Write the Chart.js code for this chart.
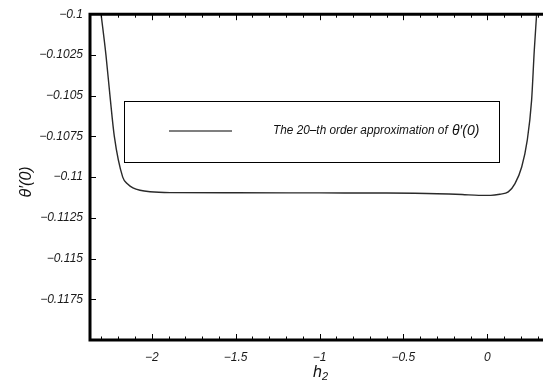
<!DOCTYPE html>
<html>
<head>
<meta charset="utf-8">
<script src="https://cdn.jsdelivr.net/npm/chart.js@4"></script>
<style>
  html, body { margin: 0; padding: 0; background: #fff; }
  #wrap { width: 543px; height: 381px; }
</style>
</head>
<body>
<div id="wrap"><canvas id="thetaChart" width="543" height="381"></canvas></div>
<script>
// values
const hValues = [-2.302, -2.273, -2.249, -2.223, -2.173, -2.142, -2.112, -2.070, -2.010, -1.891,
                 -1.5, -1.0, -0.6, -0.3, -0.15, -0.05, 0.02, 0.075, 0.125, 0.165, 0.205, 0.238, 0.264, 0.280, 0.294];
const thetaValues = [-0.1000, -0.1025, -0.1050, -0.1075, -0.1100, -0.11044, -0.11066, -0.11081, -0.11090, -0.11095,
                     -0.11096, -0.11097, -0.11098, -0.11102, -0.11107, -0.11112, -0.11112, -0.11105, -0.11091, -0.1104, -0.10938, -0.10775, -0.10529, -0.10223, -0.1000];
const xTicks = [-2, -1.5, -1, -0.5, 0];
const xMinorTicks = [-2.3, -2.2, -2.1, -1.9, -1.8, -1.7, -1.6, -1.4, -1.3, -1.2, -1.1, -0.9, -0.8, -0.7, -0.6, -0.4, -0.3, -0.2, -0.1, 0.1, 0.2, 0.3];
const yTicks = [-0.1175, -0.115, -0.1125, -0.11, -0.1075, -0.105, -0.1025, -0.1];
const legendLabel = 'The 20\u2013th order approximation of ';

const fmt = v => String(+v.toFixed(4)).replace('-', '\u2212');

// frame, inward tick marks, legend box and axis titles
const framePlugin = {
    id: 'frame',
    afterDraw(chart) {
        const ctx = chart.ctx;
        const a = chart.chartArea;
        const xs = chart.scales.x, ys = chart.scales.y;
        ctx.save();
        ctx.strokeStyle = '#000';

        // ticks
        ctx.lineWidth = 1;
        ctx.beginPath();
        xTicks.forEach(v => {
            const px = Math.round(xs.getPixelForValue(v)) + 0.5;
            ctx.moveTo(px, a.bottom); ctx.lineTo(px, a.bottom - 6);
            ctx.moveTo(px, a.top); ctx.lineTo(px, a.top + 6);
        });
        xMinorTicks.forEach(v => {
            const px = Math.round(xs.getPixelForValue(v)) + 0.5;
            ctx.moveTo(px, a.bottom); ctx.lineTo(px, a.bottom - 3.5);
            ctx.moveTo(px, a.top); ctx.lineTo(px, a.top + 3.5);
        });
        yTicks.forEach(v => {
            const py = Math.round(ys.getPixelForValue(v)) + 0.5;
            ctx.moveTo(a.left, py); ctx.lineTo(a.left + 6, py);
        });
        ctx.stroke();

        // axes lines
        ctx.lineWidth = 3;
        ctx.beginPath();
        ctx.moveTo(a.left, a.top); ctx.lineTo(a.right, a.top);
        ctx.moveTo(a.left, a.top - 1.5); ctx.lineTo(a.left, a.bottom + 1.5);
        ctx.moveTo(a.left, a.bottom); ctx.lineTo(a.right, a.bottom);
        ctx.stroke();

        // legend
        ctx.lineWidth = 1;
        ctx.strokeRect(124.5, 101.5, 375, 61);
        ctx.lineWidth = 1.2;
        ctx.beginPath();
        ctx.moveTo(169, 131); ctx.lineTo(232, 131);
        ctx.stroke();
        ctx.fillStyle = '#111';
        ctx.textBaseline = 'middle';
        ctx.textAlign = 'left';
        ctx.font = 'italic 12px "Liberation Sans"';
        ctx.fillText(legendLabel, 273, 131, 178);
        ctx.font = 'italic 14px "Liberation Sans"';
        ctx.fillText('\u03B8\u2032(0)', 452, 131);

        // axis titles
        ctx.font = 'italic 16px "Liberation Sans"';
        ctx.textBaseline = 'alphabetic';
        ctx.fillText('h', 313, 377);
        ctx.font = 'italic 11px "Liberation Sans"';
        ctx.fillText('2', 322, 380);

        ctx.translate(31, 182);
        ctx.rotate(-Math.PI / 2);
        ctx.textAlign = 'center';
        ctx.font = 'italic 16px "Liberation Sans"';
        ctx.fillText('\u03B8\u2032(0)', 0, 0);
        ctx.restore();
    }
};

new Chart(document.getElementById('thetaChart'), {
    type: 'scatter',
    data: {
        datasets: [{
            data: hValues.map((h, i) => ({ x: h, y: thetaValues[i] })),
            showLine: true,
            borderColor: '#2a2a2a',
            borderWidth: 1.4,
            pointRadius: 0,
            cubicInterpolationMode: 'monotone'
        }]
    },
    options: {
        responsive: false,
        animation: false,
        layout: { padding: { top: 14, left: 0, right: 0, bottom: 0 } },
        plugins: { legend: { display: false }, tooltip: { enabled: false } },
        scales: {
            x: {
                type: 'linear',
                min: -2.368,
                max: 0.332,
                afterBuildTicks: s => { s.ticks = xTicks.map(v => ({ value: v })); },
                afterFit: s => { s.height = 41; },
                grid: { display: false, drawTicks: false },
                border: { display: false },
                ticks: {
                    padding: 10,
                    maxRotation: 0,
                    autoSkip: false,
                    color: '#1a1a1a',
                    font: { family: 'Liberation Sans', style: 'italic', size: 12 },
                    callback: v => fmt(v)
                }
            },
            y: {
                type: 'linear',
                min: -0.12,
                max: -0.1,
                afterBuildTicks: s => { s.ticks = yTicks.map(v => ({ value: v })); },
                afterFit: s => { s.width = 90; },
                grid: { display: false, drawTicks: false },
                border: { display: false },
                ticks: {
                    padding: 7,
                    autoSkip: false,
                    color: '#1a1a1a',
                    font: { family: 'Liberation Sans', style: 'italic', size: 12 },
                    callback: v => fmt(v)
                }
            }
        }
    },
    plugins: [framePlugin]
});
</script>
</body>
</html>
